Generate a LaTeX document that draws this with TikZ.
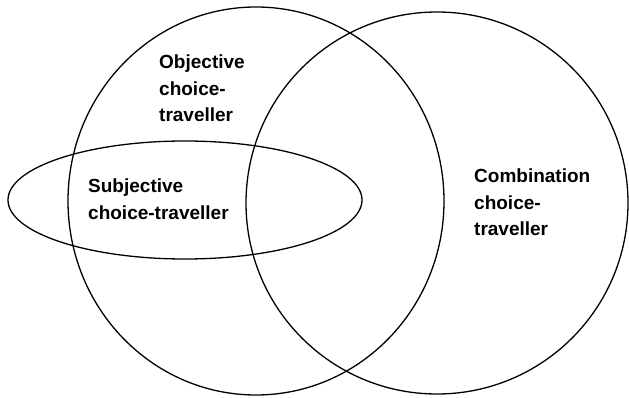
\documentclass[tikz,border=0pt]{standalone}
\usepackage{fontspec}
\setmainfont{Liberation Sans}
\begin{document}
\begin{tikzpicture}[x=1pt,y=-1pt,
  setline/.style={draw=black,line width=1.3pt},
  lbl/.style={anchor=north west,inner sep=0pt,align=left,
    font=\fontsize{19}{26.5}\selectfont\bfseries}]
\useasboundingbox (0,0) rectangle (629,398);
\draw[setline] (256,201) ellipse [x radius=188,y radius=194];
\draw[setline] (437,203) ellipse [x radius=191,y radius=191];
\draw[setline] (185,200) ellipse [x radius=177,y radius=59];
\node[lbl] (obj) at (159,55) {Objective\\choice-\\traveller};
\node[lbl] (sub) at (88,179) {Subjective\\choice-traveller};
\node[lbl] (com) at (474,169) {Combination\\choice-\\traveller};
\end{tikzpicture}
\end{document}
